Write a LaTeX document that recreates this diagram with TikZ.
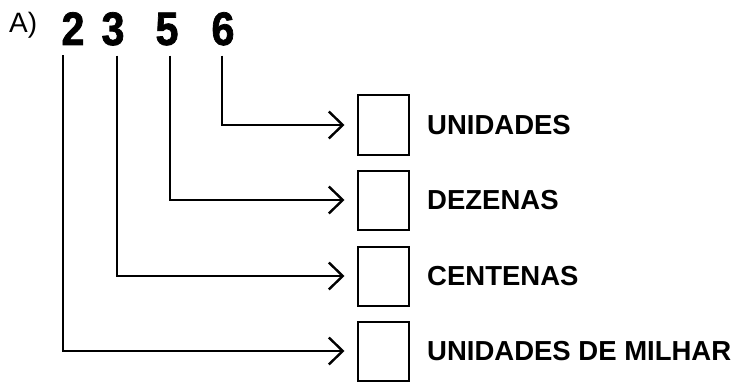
\documentclass[tikz,border=0pt]{standalone}
\usepackage{fontspec}
\setmainfont{Liberation Sans}
\newfontfamily\digitfont[FakeStretch=0.88,FakeBold=1.5]{Liberation Sans}
\usetikzlibrary{arrows.meta,positioning}

\tikzset{
  digit/.style={font=\digitfont\fontsize{47}{47}\selectfont\bfseries, inner sep=0pt, anchor=base},
  placebox/.style={draw, line width=2pt, minimum width=51pt, minimum height=59pt, inner sep=0pt},
  placelabel/.style={font=\fontsize{27.5}{28}\selectfont\bfseries, anchor=west, inner sep=0pt},
  link/.style={line width=2.2pt, -{Straight Barb[length=14pt,width=27pt,line width=2.4pt]},
    shorten <=10pt, shorten >=12pt}
}

\begin{document}
\begin{tikzpicture}[x=1pt,y=-1pt]
  \useasboundingbox (0,0) rectangle (736,385);

% the number
  \node[font=\fontsize{28}{28}\selectfont, inner sep=0pt, anchor=base west] (lbl) at (9,33) {A)};
  \node[digit] (d2) at (73,45) {2};
  \node[digit] (d3) at (113,45) {3};
  \node[digit] (d5) at (167,45) {5};
  \node[digit] (d6) at (223,45) {6};

% boxes to fill in
  \node[placebox] (b1) at (383,125) {};
  \node[placebox] (b2) at (383,200) {};
  \node[placebox] (b3) at (383,276) {};
  \node[placebox] (b4) at (383,351) {};

% place names
  \node[placelabel] (n1) at (427,125) {UNIDADES};
  \node[placelabel] (n2) at (427,200) {DEZENAS};
  \node[placelabel] (n3) at (427,276) {CENTENAS};
  \node[placelabel] (n4) at (427,351) {UNIDADES DE MILHAR};

% digit to place
  \draw[link] ([xshift=-1pt]d6.south) |- (b1.west);
  \draw[link] ([xshift=3pt]d5.south) |- (b2.west);
  \draw[link] ([xshift=4pt]d3.south) |- (b3.west);
  \draw[link] ([xshift=-10pt]d2.south) |- (b4.west);

\end{tikzpicture}
\end{document}
